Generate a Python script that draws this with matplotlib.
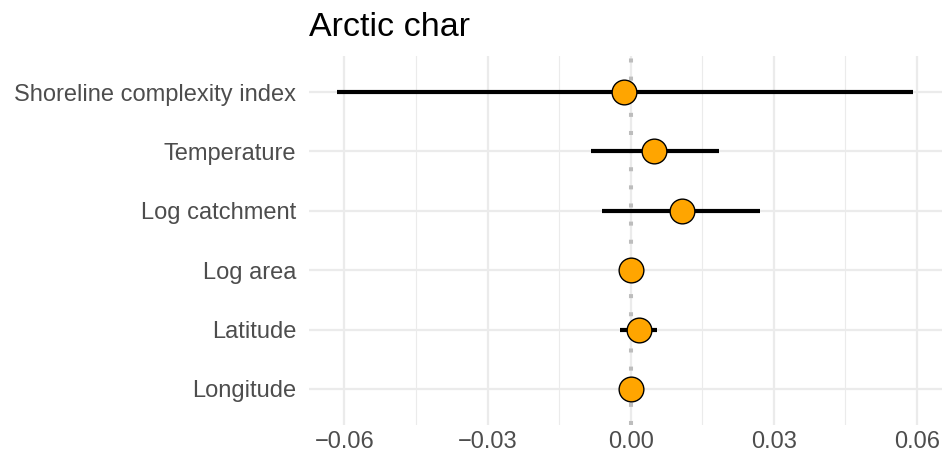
import matplotlib
matplotlib.use("Agg")
import matplotlib.pyplot as plt
from matplotlib.ticker import FixedLocator, FuncFormatter

# coefficient estimates with intervals, top row first
terms = ["Shoreline complexity index", "Temperature", "Log catchment",
         "Log area", "Latitude", "Longitude"]
estimate = [-0.0013, 0.0050, 0.0107, 0.0001, 0.0017, 0.0000]
lower = [-0.0615, -0.0084, -0.0059, -0.0015, -0.0022, -0.0012]
upper = [0.0593, 0.0185, 0.0272, 0.0016, 0.0056, 0.0012]
xticks = [-0.06, -0.03, 0.00, 0.03, 0.06]
minor_ticks = [-0.045, -0.015, 0.015, 0.045]

plt.rcParams["font.family"] = ["Liberation Sans", "DejaVu Sans"]

fig = plt.figure(figsize=(9.45, 4.63), dpi=100)
ax = fig.add_axes([0.3265, 0.083, 0.6705, 0.795])

ypos = list(range(len(terms), 0, -1))

ax.axvline(0, color="#BDBDBD", lw=2.9, ls=(0, (1.0, 3.5)), zorder=1)
ax.hlines(ypos, lower, upper, color="black", lw=3.0, zorder=2)
ax.plot(estimate, ypos, "o", ms=17.8, mfc="#FFA500", mec="black",
        mew=1.0, zorder=3)

span = max(upper) - min(lower)
ax.set_xlim(min(lower) - 0.05 * span, max(upper) + 0.05 * span)
ax.set_ylim(0.4, len(terms) + 0.6)

ax.xaxis.set_major_locator(FixedLocator(xticks))
ax.xaxis.set_minor_locator(FixedLocator(minor_ticks))
ax.xaxis.set_major_formatter(FuncFormatter(
    lambda v, p: f"{v:.2f}".replace("-", "\u2212")))
ax.set_yticks(ypos)
ax.set_yticklabels(terms)

ax.grid(which="major", color="#EBEBEB", lw=1.6, zorder=0)
ax.grid(which="minor", axis="x", color="#EBEBEB", lw=0.8, zorder=0)
ax.set_axisbelow(True)
for s in ax.spines.values():
    s.set_visible(False)
ax.tick_params(which="both", length=0, labelsize=17, colors="#4D4D4D")
ax.tick_params(axis="y", pad=9)
ax.tick_params(axis="x", pad=4.5)

ax.set_title("Arctic char", loc="left", fontsize=24.5, color="black", pad=15)

fig.savefig("out.png", dpi=100)
